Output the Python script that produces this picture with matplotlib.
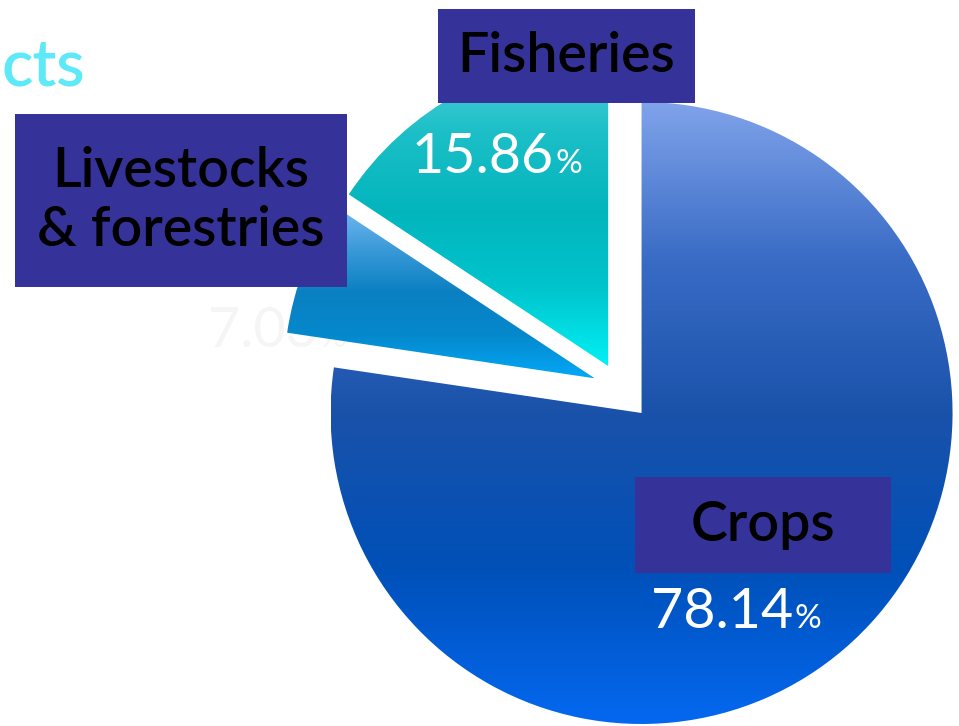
import numpy as np
import matplotlib
matplotlib.use("Agg")
import matplotlib.pyplot as plt
from matplotlib.colors import LinearSegmentedColormap
from matplotlib.patches import Rectangle

# ---- data ----
categories = ["Fisheries", "Livestocks\n& forestries", "Crops"]
values = [15.86, 7.03, 78.14]
pct_labels = ["15.86", "7.03", "78.14"]
explode = [25, 27, 33]  # offsets in axis units (pixels)

W, H = 959, 726
fig = plt.figure(figsize=(W / 100, H / 100), dpi=100)
ax = fig.add_axes([0, 0, 1, 1])

def Y(y):  # image y (top-down) -> data y
    return H - y

FONT = ["Lato", "DejaVu Sans"]

wedges, _ = ax.pie(values, explode=explode, startangle=90, counterclock=True,
                   radius=311, center=(620, Y(388)), frame=True,
                   wedgeprops=dict(linewidth=0))

grads = [
    ["#55d2da", "#1cbfc7", "#03b5bd", "#00c4cc", "#00f0f4"],
    ["#74baf0", "#3a9ad8", "#0a80c2", "#0588cc", "#03a8f6"],
    ["#80a3ea", "#3a6cc6", "#1a52aa", "#0050b8", "#0468f0"],
]

for w, cols in zip(wedges, grads):
    bb = w.get_path().get_extents()
    cmap = LinearSegmentedColormap.from_list("g", cols)
    g = np.linspace(0, 1, 256).reshape(-1, 1)
    im = ax.imshow(g, cmap=cmap, extent=(bb.x0, bb.x1, bb.y0, bb.y1),
                   origin="upper", aspect="auto", zorder=1, interpolation="bilinear")
    im.set_clip_path(w)
    w.set_facecolor("none")
    w.set_zorder(2)

# percentage labels
def pct(x, y, num, color, size=40, psize=24, z=5):
    ax.text(x, Y(y), num, color=color, fontsize=size, family=FONT,
            ha="right", va="baseline", zorder=z)
    ax.annotate("%", xy=(x, Y(y)), xytext=(1, 0), textcoords="offset points",
                color=color, fontsize=psize, family=FONT, ha="left",
                va="baseline", zorder=z)

pct(554, 173, pct_labels[0], "white")
pct(318, 347, pct_labels[1], "#f5f5f5", z=0.5)
pct(793, 628, pct_labels[2], "white")

# label boxes
box_col = "#35339a"
boxes = [(438, 9, 695, 103), (15, 114, 347, 287), (635, 477, 891, 573)]
sizes = [40, 40, 40]
for (x0, y0, x1, y1), cat, fs in zip(boxes, categories, sizes):
    ax.add_patch(Rectangle((x0, Y(y1)), x1 - x0, y1 - y0, facecolor=box_col,
                           edgecolor="none", zorder=6))
    ax.text((x0 + x1) / 2, Y((y0 + y1) / 2), cat, color="black", fontsize=fs,
            family=FONT, fontweight="semibold", ha="center", va="center",
            zorder=7, linespacing=1.2)

# partial title
ax.text(2, Y(86), "cts", color="#5de9f7", fontsize=47, family=FONT,
        fontweight="semibold", ha="left", va="baseline", zorder=7)

ax.set_xlim(0, W)
ax.set_ylim(0, H)
ax.set_aspect("auto")
ax.axis("off")
fig.savefig("out.png", dpi=100, facecolor="white")
